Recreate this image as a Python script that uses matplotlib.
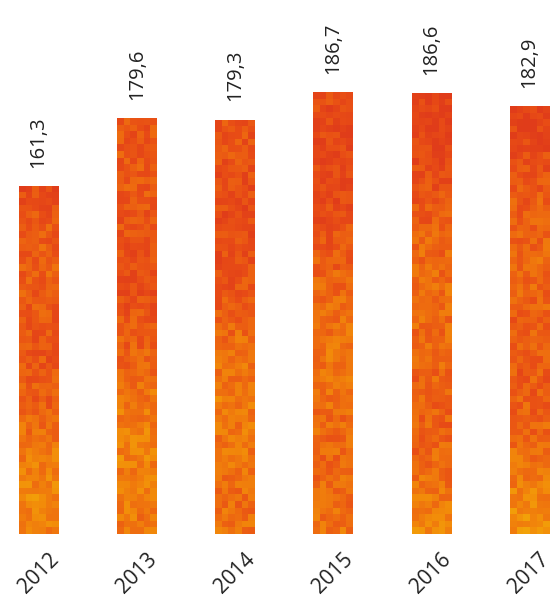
import numpy as np
import matplotlib.pyplot as plt
from matplotlib.colors import LinearSegmentedColormap

years = ["2012", "2013", "2014", "2015", "2016", "2017"]
values = [161.3, 179.6, 179.3, 186.7, 186.6, 182.9]

plt.rcParams['font.family'] = ['Open Sans', 'DejaVu Sans']

fig = plt.figure(figsize=(5.54, 6.01), dpi=100)
ax = fig.add_axes([0, 67 / 601, 1, 534 / 601])

y_bottom, y_top = 66.6, 211.8
bar_width = 0.4
x = np.arange(len(years))

# red at the top, yellow towards the bottom, with a blocky texture
fire = LinearSegmentedColormap.from_list("fire", ["#e03c1a", "#e84c16", "#ee6a10", "#f28a0a", "#f3a808"])

bars = ax.bar(x, values, width=bar_width, color="#ee6a10", zorder=1)

block = 6.5 / 3.678  # about 6.5 px per texture cell
for i, (bar, v) in enumerate(zip(bars, values)):
    rows = max(int((v - y_bottom) / block), 1)
    cols = 6
    r, c = np.mgrid[0:rows, 0:cols]
    # cheap deterministic hash for the speckle
    noise = np.modf(np.abs(np.sin(r * 12.9898 + c * 78.233 + i * 37.719) * 43758.5453))[0]
    depth = r / max(rows - 1, 1)
    field = np.clip(0.2 + 0.45 * depth + 0.4 * (noise - 0.5) + 0.12 * np.sin(depth * 9 + i), 0, 1)
    im = ax.imshow(field, cmap=fire, vmin=0, vmax=1, aspect='auto', interpolation='nearest',
                   extent=(i - bar_width / 2, i + bar_width / 2, y_bottom, v), zorder=2)
    im.set_clip_path(bar)

for i, v in enumerate(values):
    ax.annotate(f"{v:.1f}".replace('.', ','), (i, v), xytext=(0, 13), textcoords='offset points',
                rotation=90, ha='center', va='bottom', fontsize=14.5, color='#222222')

ax.set_xlim(-0.392, 5.25)
ax.set_ylim(y_bottom, y_top)
ax.set_xticks(x)
ax.set_xticklabels(years, rotation=45, ha='center', fontsize=15, color='#222222')
ax.tick_params(axis='x', length=0, pad=11)
ax.set_yticks([])
for s in ax.spines.values():
    s.set_visible(False)

fig.savefig("out.png", dpi=100)
